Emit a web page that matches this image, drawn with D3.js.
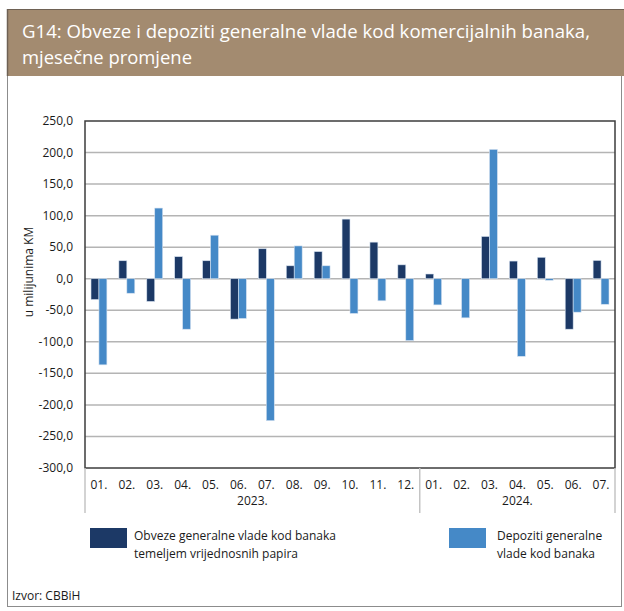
<!DOCTYPE html>
<html>
<head>
<meta charset="utf-8">
<script src="https://cdn.jsdelivr.net/npm/d3@7"></script>
<style>
  body { margin: 0; background: #fff; }
  text { font-family: "Open Sans", "Noto Sans", sans-serif; }
</style>
</head>
<body>
<script>
// data
var months = ["01.", "02.", "03.", "04.", "05.", "06.", "07.", "08.", "09.", "10.", "11.", "12.",
              "01.", "02.", "03.", "04.", "05.", "06.", "07."];
var years = ["2023.", "2024."];
var yearOf = [0,0,0,0,0,0,0,0,0,0,0,0, 1,1,1,1,1,1,1];
var obveze = [-33, 28.5, -36, 35, 28.5, -64, 47.5, 20.5, 43, 94.5, 58, 22,
              7.5, 0, 67, 28, 34, -80, 29];
var depoziti = [-136.5, -23, 112, -80, 69, -63, -225, 52, 20.5, -55, -35, -98,
                -41.5, -62, 205, -123, -2.5, -53, -40.5];
var yTicks = [250, 200, 150, 100, 50, 0, -50, -100, -150, -200, -250, -300];

var W = 624, H = 611;
var plot = {left: 85, right: 615, top: 121, bottom: 468};
var fs = "12px", ink = "#1a1a1a";

var svg = d3.select("body").append("svg")
    .attr("width", W)
    .attr("height", H);

// frame and title bar
svg.append("rect")
    .attr("x", 7.5).attr("y", 9.5)
    .attr("width", 614).attr("height", 597)
    .attr("fill", "#fff")
    .attr("stroke", "#8c8c8c")
    .attr("stroke-width", 1);

svg.append("rect")
    .attr("x", 7).attr("y", 9)
    .attr("width", 617).attr("height", 67)
    .attr("fill", "#a38b70");
svg.append("line")
    .attr("x1", 7).attr("x2", 624).attr("y1", 9.5).attr("y2", 9.5)
    .attr("stroke", "#6e6154").attr("stroke-width", 1);
svg.append("line")
    .attr("x1", 7.5).attr("x2", 7.5).attr("y1", 9).attr("y2", 76)
    .attr("stroke", "#6e6154").attr("stroke-width", 1.5);

svg.append("text")
    .attr("x", 22).attr("y", 38)
    .attr("fill", "#fff")
    .attr("font-size", "18.5px")
    .attr("textLength", 568)
    .attr("lengthAdjust", "spacingAndGlyphs")
    .text("G14: Obveze i depoziti generalne vlade kod komercijalnih banaka,");
svg.append("text")
    .attr("x", 22).attr("y", 64)
    .attr("fill", "#fff")
    .attr("font-size", "18.5px")
    .attr("textLength", 170)
    .attr("lengthAdjust", "spacingAndGlyphs")
    .text("mjesečne promjene");

// scales
var x = d3.scaleBand()
    .domain(d3.range(months.length))
    .range([plot.left, plot.right])
    .paddingInner(0.43)
    .paddingOuter(0.215);
var x1 = d3.scaleBand()
    .domain([0, 1])
    .range([0, x.bandwidth()]);
var y = d3.scaleLinear()
    .domain([-300, 250])
    .range([plot.bottom, plot.top]);

// gridlines
svg.append("g")
    .attr("class", "grid")
    .selectAll("line")
    .data(yTicks.filter(function(d) { return d > -300 && d < 250; }))
    .enter().append("line")
    .attr("x1", plot.left).attr("x2", plot.right)
    .attr("y1", function(d) { return y(d); })
    .attr("y2", function(d) { return y(d); })
    .attr("stroke", "#b4b4b4")
    .attr("stroke-width", 1.5);

// y tick labels
svg.append("g")
    .selectAll("text")
    .data(yTicks)
    .enter().append("text")
    .attr("x", 73)
    .attr("y", function(d) { return y(d) + 4; })
    .attr("text-anchor", "end")
    .attr("font-size", fs)
    .attr("fill", ink)
    .text(function(d) { return d3.format(".1f")(d).replace(".", ",").replace("−", "-"); });

svg.append("text")
    .attr("transform", "translate(33," + 272 + ") rotate(-90)")
    .attr("text-anchor", "middle")
    .attr("font-size", fs)
    .attr("fill", ink)
    .text("u milijunima KM");

// bars
var colors = ["#1c3966", "#4589c7"];
var series = [obveze, depoziti];
series.forEach(function(vals, s) {
  svg.append("g")
    .selectAll("rect")
    .data(vals)
    .enter().append("rect")
    .attr("x", function(d, i) { return x(i) + x1(s); })
    .attr("width", x1.bandwidth())
    .attr("y", function(d) { return y(Math.max(0, d)); })
    .attr("height", function(d) { return Math.abs(y(d) - y(0)); })
    .attr("fill", colors[s])
    .attr("stroke", "#d6e2f0")
    .attr("stroke-width", 0.6);
});

// plot border
svg.append("rect")
    .attr("x", plot.left).attr("y", plot.top)
    .attr("width", plot.right - plot.left)
    .attr("height", plot.bottom - plot.top)
    .attr("fill", "none")
    .attr("stroke", "#3c3c3c")
    .attr("stroke-width", 1.5);

// x axis: month labels
svg.append("g")
    .selectAll("text")
    .data(months)
    .enter().append("text")
    .attr("x", function(d, i) { return x(i) + x.bandwidth() / 2; })
    .attr("y", 489)
    .attr("text-anchor", "middle")
    .attr("font-size", fs)
    .attr("fill", ink)
    .text(function(d) { return d; });

// year groups
var step = x.step();
years.forEach(function(yr, k) {
  var idx = d3.range(months.length).filter(function(i) { return yearOf[i] === k; });
  var x0 = plot.left + step * idx[0];
  var xe = plot.left + step * (idx[idx.length - 1] + 1);
  svg.append("text")
    .attr("x", (x0 + xe) / 2)
    .attr("y", 505)
    .attr("text-anchor", "middle")
    .attr("font-size", fs)
    .attr("fill", ink)
    .text(yr);
});
var seps = [0, 12, 19];
svg.append("g")
    .selectAll("line")
    .data(seps)
    .enter().append("line")
    .attr("x1", function(d) { return plot.left + step * d; })
    .attr("x2", function(d) { return plot.left + step * d; })
    .attr("y1", plot.bottom)
    .attr("y2", 513)
    .attr("stroke", "#c4c4c4")
    .attr("stroke-width", 1.5);

// legend
var legend = [
  {x: 90, lines: ["Obveze generalne vlade kod banaka", "temeljem vrijednosnih papira"]},
  {x: 449, lines: ["Depoziti generalne", "vlade kod banaka"]}
];
legend.forEach(function(l, s) {
  svg.append("rect")
    .attr("x", l.x).attr("y", 528)
    .attr("width", 37).attr("height", 20)
    .attr("fill", colors[s]);
  l.lines.forEach(function(t, j) {
    svg.append("text")
      .attr("x", l.x + 44 + (s === 1 ? 4 : 0))
      .attr("y", 540 + j * 18)
      .attr("font-size", fs)
      .attr("fill", ink)
      .text(t);
  });
});

svg.append("text")
    .attr("x", 12).attr("y", 600)
    .attr("font-size", fs)
    .attr("fill", ink)
    .text("Izvor:  CBBiH");
</script>
</body>
</html>
